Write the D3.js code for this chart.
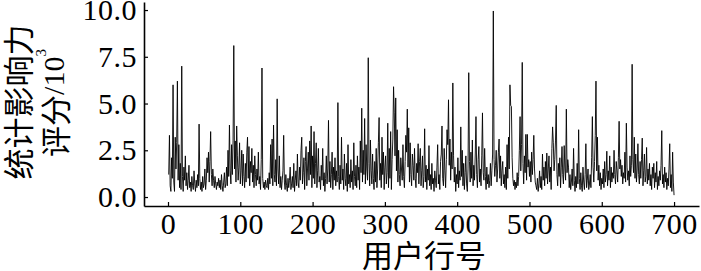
<!DOCTYPE html>
<html>
<head>
<meta charset="utf-8">
<script src="https://cdn.jsdelivr.net/npm/d3@7"></script>
<style>
body { margin: 0; background: #fff; }
svg { display: block; }
</style>
</head>
<body>
<div id="chart"></div>
<script>
var W = 701, H = 271;

// influence score (x10^3) per user row, rows 1..700
var scores = [
  1.2, 3.3, 0.6, 0.3, 2.1, 1.0, 6.0, 0.8, 0.3, 3.2,
  1.5, 2.9, 6.2, 0.9, 2.8, 0.5, 1.8, 0.4, 7.0, 1.1,
  0.3, 1.6, 0.9, 2.2, 0.6, 1.3, 0.4, 0.9, 1.7, 0.5,
  0.8, 0.3, 1.1, 0.6, 0.4, 1.4, 0.7, 0.3, 0.9, 0.5,
  1.2, 0.6, 3.9, 1.0, 0.4, 0.8, 0.3, 1.1, 0.5, 0.7,
  1.5, 0.4, 0.9, 2.1, 1.3, 2.4, 0.8, 1.9, 3.5, 1.2,
  0.6, 1.5, 0.9, 0.5, 1.1, 0.7, 0.4, 0.8, 0.6, 1.0,
  0.5, 0.9, 0.4, 1.2, 0.6, 0.3, 0.8, 1.3, 0.5, 0.7,
  1.6, 0.6, 2.5, 1.1, 3.85, 1.4, 0.7, 2.8, 1.2, 3.0,
  8.1, 1.5, 3.0, 0.8, 3.8, 2.2, 0.9, 1.6, 2.9, 0.7,
  1.4, 2.5, 0.6, 2.3, 1.1, 0.5, 1.8, 0.8, 2.4, 3.2,
  1.0, 2.7, 0.6, 1.9, 1.3, 2.6, 0.8, 1.7, 0.5, 2.2,
  1.2, 0.6, 1.5, 0.9, 2.4, 0.7, 1.1, 0.4, 2.0, 6.9,
  1.0, 0.5, 0.8, 0.4, 0.9, 0.6, 0.5, 1.0, 0.4, 1.3,
  0.7, 2.8, 1.0, 3.1, 0.6, 3.85, 1.2, 0.8, 2.0, 0.6,
  5.25, 1.5, 0.7, 2.2, 0.5, 1.1, 0.4, 0.9, 1.4, 3.3,
  0.8, 0.4, 1.2, 0.6, 0.3, 1.0, 0.5, 0.9, 1.6, 0.4,
  0.7, 1.1, 0.5, 1.8, 0.3, 0.9, 1.4, 0.6, 2.3, 0.8,
  0.5, 1.6, 0.9, 2.5, 3.2, 0.7, 1.3, 2.1, 0.4, 1.9,
  2.7, 0.6, 1.5, 2.4, 0.9, 3.0, 1.2, 3.8, 0.5, 2.2,
  1.0, 3.5, 0.7, 1.8, 2.9, 0.5, 1.4, 2.6, 0.8, 1.1,
  0.4, 1.7, 0.9, 2.6, 0.6, 1.3, 0.3, 1.0, 2.2, 0.7,
  1.5, 4.1, 0.8, 1.9, 0.5, 1.2, 2.4, 0.4, 1.6, 0.9,
  2.1, 0.6, 1.4, 0.8, 5.05, 1.1, 0.4, 1.7, 0.7, 3.2,
  0.9, 1.5, 0.4, 2.3, 1.0, 0.6, 1.8, 0.3, 2.8, 0.7,
  1.2, 0.5, 2.0, 0.8, 1.4, 0.4, 2.9, 1.1, 0.6, 1.7,
  0.5, 2.2, 0.9, 1.6, 0.4, 3.0, 1.3, 4.75, 0.8, 2.5,
  1.2, 4.2, 0.7, 2.8, 1.5, 0.9, 7.45, 1.8, 0.6, 3.05,
  1.4, 0.7, 2.3, 1.0, 0.4, 1.9, 0.8, 2.6, 0.5, 1.5,
  2.9, 4.25, 0.9, 1.8, 0.5, 3.2, 1.2, 2.4, 0.4, 1.6,
  2.2, 0.7, 1.3, 3.95, 0.5, 2.6, 1.0, 3.5, 0.4, 2.0,
  3.1, 5.9, 4.5, 2.2, 5.3, 1.4, 3.6, 0.8, 2.5, 1.2,
  0.6, 2.1, 1.5, 0.9, 2.8, 1.1, 0.5, 1.9, 3.3, 2.4,
  4.7, 1.6, 3.7, 0.8, 2.9, 1.2, 0.6, 2.3, 1.7, 0.9,
  2.6, 1.0, 0.5, 1.8, 1.3, 2.85, 0.7, 1.9, 2.6, 0.6,
  1.4, 2.2, 0.5, 1.1, 3.65, 0.8, 1.7, 0.4, 1.5, 0.9,
  2.75, 0.6, 1.2, 0.4, 1.8, 0.7, 1.0, 0.3, 1.4, 0.9,
  0.5, 1.6, 2.8, 0.7, 1.2, 0.4, 1.9, 2.3, 3.8, 1.0,
  0.6, 2.6, 1.4, 0.5, 2.0, 3.6, 2.8, 5.2, 1.7, 3.1,
  0.9, 2.4, 1.5, 6.1, 2.2, 0.8, 1.6, 0.3, 1.2, 0.7,
  2.1, 0.5, 1.4, 0.9, 3.75, 1.1, 2.5, 0.6, 1.8, 0.4,
  1.3, 2.2, 0.7, 0.3, 1.5, 6.65, 1.9, 0.8, 2.4, 1.0,
  3.05, 0.6, 1.7, 0.9, 2.3, 4.3, 1.2, 0.5, 2.0, 2.7,
  0.8, 1.5, 0.6, 2.2, 4.5, 1.3, 0.9, 2.6, 1.1, 0.4,
  1.6, 0.7, 1.2, 0.5, 0.9, 1.8, 0.6, 1.4, 2.3, 9.95,
  2.0, 1.1, 1.7, 2.5, 0.8, 1.5, 2.4, 3.1, 1.0, 2.2,
  0.6, 1.4, 1.9, 0.7, 1.2, 0.5, 1.6, 0.4, 2.8, 1.0,
  3.2, 1.5, 6.0, 4.9, 4.85, 2.1, 1.0, 0.6, 0.9, 0.4,
  0.8, 0.5, 1.3, 0.6, 1.1, 2.5, 4.3, 1.4, 2.8, 7.2,
  1.8, 0.7, 2.2, 1.3, 3.35, 0.9, 3.35, 1.6, 2.0, 1.1,
  1.9, 0.8, 2.4, 1.2, 2.0, 3.3, 1.5, 0.8, 0.6, 0.4,
  1.0, 0.3, 0.7, 1.4, 0.5, 1.1, 0.4, 2.3, 0.9, 1.6,
  0.6, 1.9, 1.0, 2.35, 0.7, 1.5, 2.2, 0.8, 1.6, 0.4,
  2.6, 3.75, 2.9, 1.4, 2.0, 3.0, 4.9, 1.2, 0.6, 1.8,
  1.1, 2.1, 0.5, 1.6, 2.7, 1.2, 0.7, 2.75, 1.5, 0.9,
  4.7, 1.3, 2.0, 1.6, 0.5, 1.2, 0.4, 0.8, 1.5, 0.6,
  2.6, 0.9, 0.3, 1.1, 0.5, 1.8, 0.7, 3.6, 1.0, 0.4,
  1.3, 0.6, 0.3, 1.6, 0.8, 0.4, 1.2, 2.85, 0.5, 0.9,
  1.5, 0.4, 0.7, 1.2, 0.5, 2.1, 4.3, 1.6, 0.8, 1.9,
  3.3, 6.2, 1.4, 3.2, 0.9, 1.7, 0.6, 1.3, 0.4, 1.0,
  0.7, 1.5, 0.5, 1.9, 0.8, 1.2, 2.45, 0.6, 1.4, 0.9,
  2.2, 0.5, 1.6, 0.8, 1.3, 1.0, 2.5, 1.2, 0.7, 1.9,
  1.4, 0.8, 2.1, 4.05, 1.5, 2.0, 1.1, 1.7, 0.7, 1.3,
  1.0, 2.4, 0.8, 3.95, 1.6, 0.9, 1.4, 0.6, 2.2, 1.1,
  1.7, 7.1, 2.0, 1.3, 3.2, 1.0, 2.3, 0.8, 1.5, 2.85,
  1.2, 0.7, 1.9, 1.0, 2.0, 3.15, 0.6, 1.4, 2.3, 0.8,
  1.1, 2.65, 0.7, 1.5, 0.9, 1.8, 0.6, 1.2, 0.4, 1.6,
  1.0, 1.8, 0.5, 1.3, 0.8, 1.9, 0.4, 1.1, 0.6, 1.4,
  0.9, 1.7, 3.55, 0.7, 1.2, 0.5, 1.6, 0.8, 1.3, 0.4,
  1.0, 0.6, 1.5, 2.85, 0.5, 1.2, 0.3, 2.4, 0.8, 0.1
];

var xTicks = [0, 100, 200, 300, 400, 500, 600, 700];
var yTicks = [0, 2.5, 5, 7.5, 10];

var xTitle = "用户行号";
var yTitle1 = "统计影响力";
var yTitle2 = "评分/10";

var serif = "'Liberation Serif', 'Times New Roman', serif";
var cjk = "'Noto Sans CJK SC', sans-serif";

var svg = d3.select("#chart").append("svg")
    .attr("width", W)
    .attr("height", H);

// axes extend a bit past the data on both ends
var x = d3.scaleLinear().domain([-33.2, 734.5]).range([144, 699]);
var y = d3.scaleLinear().domain([-0.48, 10.43]).range([206, 2]);

var line = d3.line()
    .x(function(d, i){ return x(i + 1); })
    .y(function(d){ return y(d); });

svg.append("path")
    .datum(scores)
    .attr("fill", "none")
    .attr("stroke", "#000")
    .attr("stroke-width", 0.9)
    .attr("d", line);

svg.append("g")
    .attr("transform", "translate(0,206)")
    .call(d3.axisBottom(x).tickValues(xTicks).tickSizeInner(-4).tickSizeOuter(0).tickPadding(7));

svg.append("g")
    .attr("transform", "translate(144,0)")
    .call(d3.axisLeft(y).tickValues(yTicks).tickSizeInner(-4).tickSizeOuter(0).tickPadding(7)
        .tickFormat(d3.format(".1f")));

svg.selectAll(".domain").attr("stroke", "#000").attr("stroke-width", 1.6);
svg.selectAll(".tick line").attr("stroke", "#000").attr("stroke-width", 1.2);
svg.selectAll(".tick text")
    .attr("fill", "#000")
    .style("font-family", serif)
    .style("font-size", "30px")
    .style("letter-spacing", "0.5px");

// x title
svg.append("text")
    .attr("x", 424)
    .attr("y", 267)
    .attr("text-anchor", "middle")
    .style("font-family", cjk)
    .style("font-size", "31px")
    .text(xTitle);

// y title, two rotated lines
svg.append("text")
    .attr("transform", "translate(16,102) rotate(-90)")
    .attr("text-anchor", "middle")
    .attr("dominant-baseline", "central")
    .style("font-family", cjk)
    .style("font-size", "31px")
    .text(yTitle1);

var t2 = svg.append("text")
    .attr("transform", "translate(53,103) rotate(-90)")
    .attr("text-anchor", "middle")
    .attr("dominant-baseline", "central")
    .style("font-family", cjk)
    .style("font-size", "31px");
t2.append("tspan").text(yTitle2.slice(0, 2));
t2.append("tspan").style("font-family", serif).style("font-size", "30px").text(yTitle2.slice(2));
t2.append("tspan").attr("dy", -12).style("font-family", serif).style("font-size", "15px").text("3");
</script>
</body>
</html>
